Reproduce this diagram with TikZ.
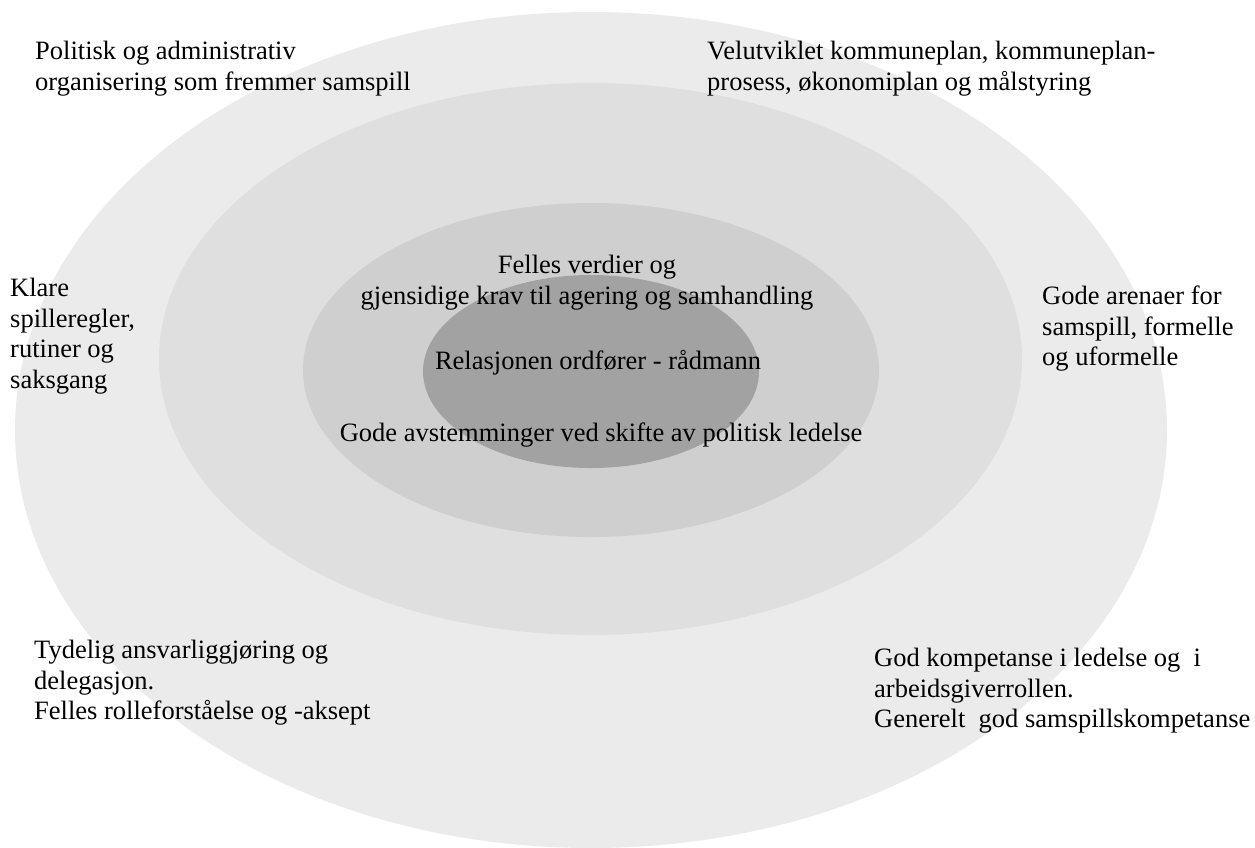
\documentclass[tikz,border=0pt]{standalone}
\usepackage{fontspec}
\setmainfont{Liberation Serif}
\definecolor{ringA}{HTML}{EBEBEB}
\definecolor{ringB}{HTML}{DFDFDF}
\definecolor{ringC}{HTML}{CFCFCF}
\definecolor{ringD}{HTML}{A2A2A2}
\begin{document}
\begin{tikzpicture}[x=1pt,y=-1pt,
  lbl/.style={inner sep=0pt, font=\fontsize{26.5}{30.5}\selectfont, execute at begin node=\strut},
  lblL/.style={lbl, align=left, anchor=north west},
  lblC/.style={lbl, align=center, anchor=north}]
\useasboundingbox (0,0) rectangle (1255,847);
\clip (0,0) rectangle (1255,847);
\fill[ringA] (591,430) ellipse [x radius=576pt, y radius=418pt];
\fill[ringB] (590.5,359) ellipse [x radius=431.5pt, y radius=276pt];
\fill[ringC] (591,370) ellipse [x radius=288pt, y radius=167pt];
\fill[ringD] (591,371.5) ellipse [x radius=168pt, y radius=96.5pt];

\node[lblL] (tl) at (35,41) {Politisk og administrativ\\organisering som fremmer samspill};
\node[lblL] (tr) at (707,41) {Velutviklet kommuneplan, kommuneplan-\\prosess, økonomiplan og målstyring};
\node[lblL] (l) at (10,278) {Klare\\spilleregler,\\rutiner og\\saksgang};
\node[lblL] (r) at (1042,286) {Gode arenaer for\\samspill, formelle\\og uformelle};
\node[lblL] (bl) at (34,640) {Tydelig ansvarliggjøring og\\delegasjon.\\Felles rolleforståelse og -aksept};
\node[lblL] (br) at (874,648) {God kompetanse i ledelse og\ \ i\\arbeidsgiverrollen.\\Generelt\ \ god samspillskompetanse};
\node[lblC] (c1) at (587,255) {Felles verdier og\\gjensidige krav til agering og samhandling};
\node[lbl, anchor=base] (c2) at (598,369) {Relasjonen ordfører - rådmann};
\node[lbl, anchor=base] (c3) at (601,441) {Gode avstemminger ved skifte av politisk ledelse};
\end{tikzpicture}
\end{document}
